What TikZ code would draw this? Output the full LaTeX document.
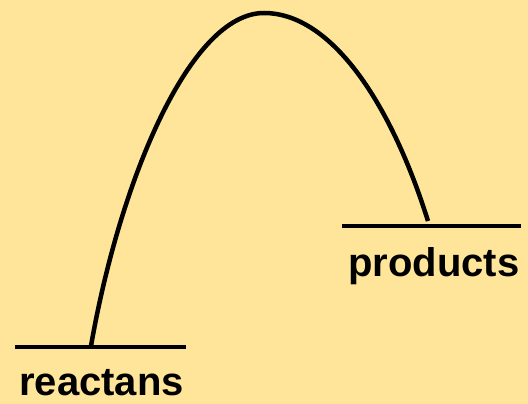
\documentclass[tikz,border=0pt]{standalone}
\usepackage{fontspec}
\setmainfont{Liberation Sans}
\definecolor{bg}{HTML}{FFE599}
\tikzset{
  level/.style={line width=4.5pt},
  curve/.style={line width=4.5pt},
  lbl/.style={font=\fontsize{40}{42}\selectfont\bfseries, anchor=base west, inner sep=0pt}
}
\begin{document}
\begin{tikzpicture}[x=1pt,y=-1pt]
\fill[bg] (0,0) rectangle (528,404);
\useasboundingbox (0,0) rectangle (528,404);
\coordinate (l1) at (15,347);
\coordinate (l2) at (186,347);
\coordinate (r1) at (342,226);
\coordinate (r2) at (521,226);
\coordinate (s) at (91,346);
\coordinate (top) at (264,13);
\coordinate (e) at (428,221);
\draw[level] (l1) -- (l2);
\draw[level] (r1) -- (r2);
\draw[curve] (s) .. controls (120,180) and (190,13) .. (top) .. controls (330,13) and (390,100) .. (e);
\node[lbl] (reac) at (19,395.5) {reactans};
\node[lbl] (prod) at (348,276) {products};
\end{tikzpicture}
\end{document}
